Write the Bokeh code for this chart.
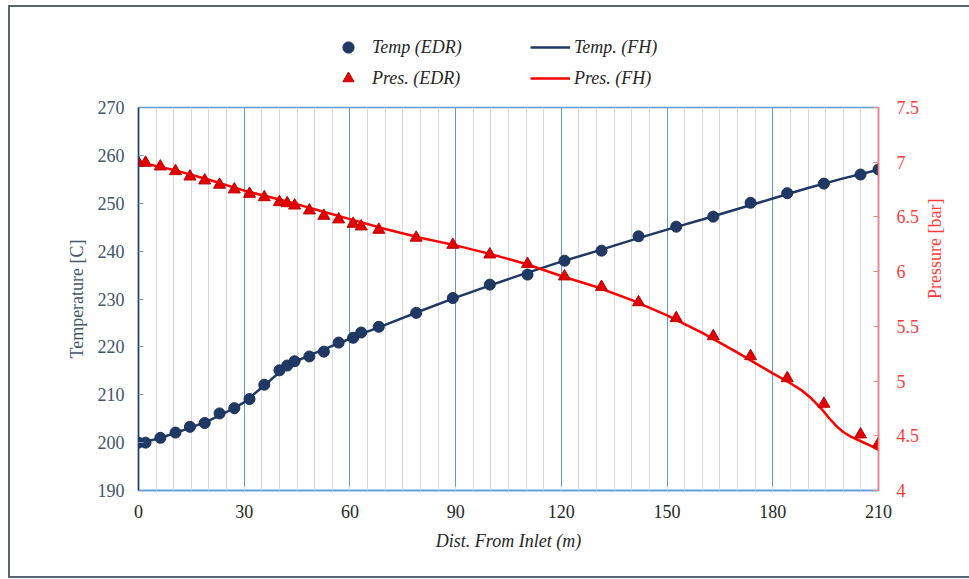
import math
from bokeh.plotting import figure
from bokeh.layouts import column
from bokeh.models import (Range1d, LinearAxis, FixedTicker, Legend, LegendItem)
from bokeh.embed import file_html
from bokeh.resources import INLINE

# ---- data ----
dist_edr = [0, 2, 6.2, 10.5, 14.6, 18.8, 23, 27.2, 31.5, 35.7, 40, 42.2, 44.3,
            48.5, 52.6, 56.8, 60.9, 63.2, 68.2, 78.8, 89.2, 99.7, 110.4, 120.9,
            131.4, 141.9, 152.6, 163.1, 173.7, 184.1, 194.5, 204.9, 210]
temp_edr = [200, 200, 201, 202.1, 203.3, 204.1, 206.1, 207.2, 209.1, 212.1,
            215.1, 216.1, 217, 218, 219, 220.9, 221.9, 223, 224.2, 227.1, 230.2,
            233, 235.1, 238, 240.1, 243.1, 245.1, 247.2, 250.1, 252.1, 254.1,
            256, 257.05]
pres_edr = [6.995, 6.995, 6.961, 6.918, 6.869, 6.833, 6.794, 6.751, 6.711, 6.68,
            6.635, 6.625, 6.604, 6.559, 6.51, 6.477, 6.437, 6.413, 6.382, 6.31,
            6.245, 6.157, 6.07, 5.956, 5.86, 5.72, 5.575, 5.41, 5.227, 5.026,
            4.792, 4.512, 4.427]

dist_fh_t = [0, 5, 10, 15, 20, 25, 30, 35, 40, 45, 50, 55, 60, 65, 70, 80, 90,
             100, 110, 120, 130, 140, 150, 160, 170, 180, 190, 200, 210]
temp_fh = [200, 200.7, 201.9, 203.2, 204.6, 206.4, 208.4, 211.5, 214.7, 217.1,
           218.7, 220.2, 221.7, 223.2, 224.6, 227.5, 230.3, 232.9, 235.4, 237.8,
           240.0, 242.3, 244.5, 246.6, 248.8, 251.0, 253.2, 255.2, 257]

dist_fh_p = [0, 10, 20, 30, 40, 50, 60, 70, 80, 90, 100, 110, 120, 130, 140, 150,
             160, 170, 180, 185, 188, 191, 194, 196, 198, 200, 202, 205, 208, 210]
pres_fh = [7.0, 6.93, 6.84, 6.74, 6.66, 6.57, 6.48, 6.39, 6.31, 6.24, 6.16, 6.07,
           5.96, 5.86, 5.74, 5.60, 5.44, 5.26, 5.07, 4.98, 4.92, 4.84, 4.74, 4.66,
           4.59, 4.535, 4.495, 4.45, 4.405, 4.37]

x_ticks = [0, 30, 60, 90, 120, 150, 180, 210]
x_minor = list(range(0, 211, 5))
t_ticks = [190, 200, 210, 220, 230, 240, 250, 260, 270]
p_ticks = [4, 4.5, 5, 5.5, 6, 6.5, 7, 7.5]
p_labels = ["4", "4.5", "5", "5.5", "6", "6.5", "7", "7.5"]

legend_col1 = ["Temp (EDR)", "Pres. (EDR)"]
legend_col2 = ["Temp. (FH)", "Pres. (FH)"]

NAVY = "#1F3864"
RED = "#FF0000"
TRI = "#E00000"
SERIF = "Liberation Serif"
W = 959
H_LEG = 88
H_MAIN = 481

circ_style = dict(marker="circle", size=11, fill_color=NAVY, line_color="#1A2F55", line_width=1)
tri_style = dict(marker="triangle", size=12, fill_color=TRI, line_color="#C00000", line_width=1)
tl_style = dict(line_color=NAVY, line_width=2.5)
pl_style = dict(line_color=RED, line_width=2.5)

# ---------------- main chart ----------------
p = figure(width=W, height=H_MAIN, x_range=Range1d(0, 210), y_range=Range1d(190, 270),
           output_backend="svg", toolbar_location=None,
           min_border_left=128, min_border_right=91, min_border_top=12,
           min_border_bottom=86)
p.extra_y_ranges = {"pres": Range1d(4, 7.5)}
p.outline_line_color = "#5B9BD5"
p.outline_line_width = 1.5
p.border_fill_color = "white"

p.ygrid.grid_line_color = None
p.xgrid.ticker = FixedTicker(ticks=x_ticks, minor_ticks=x_minor)
p.xgrid.grid_line_color = "#5B9BD5"
p.xgrid.minor_grid_line_color = "#D9D9D9"

xa = p.xaxis[0]
xa.ticker = FixedTicker(ticks=x_ticks, minor_ticks=x_minor)
xa.axis_line_color = "#5B9BD5"
xa.axis_line_width = 1.5
xa.major_tick_in = 4
xa.major_tick_out = 0
xa.minor_tick_in = 4
xa.minor_tick_out = 0
xa.major_tick_line_color = "#5B9BD5"
xa.minor_tick_line_color = "#D9D9D9"
xa.major_label_text_font = SERIF
xa.major_label_text_font_size = "18px"
xa.major_label_text_color = "#262626"
xa.major_label_standoff = 14
xa.axis_label = "Dist. From Inlet (m)"
xa.axis_label_text_font = SERIF
xa.axis_label_text_font_style = "italic"
xa.axis_label_text_font_size = "18px"
xa.axis_label_text_color = "#262626"
xa.axis_label_standoff = 10

ya = p.yaxis[0]
ya.ticker = FixedTicker(ticks=t_ticks)
ya.axis_line_color = NAVY
ya.axis_line_width = 1.5
ya.major_tick_in = 5
ya.major_tick_out = 0
ya.minor_tick_in = 0
ya.minor_tick_out = 0
ya.major_tick_line_color = "#8497B0"
ya.major_label_text_font = SERIF
ya.major_label_text_font_size = "18px"
ya.major_label_text_color = "#44546A"
ya.major_label_standoff = 14
ya.axis_label = "Temperature [C]"
ya.axis_label_text_font = SERIF
ya.axis_label_text_font_style = "normal"
ya.axis_label_text_font_size = "18px"
ya.axis_label_text_color = "#44546A"
ya.axis_label_standoff = 8

ra = LinearAxis(y_range_name="pres", ticker=FixedTicker(ticks=p_ticks))
ra.major_label_overrides = {t: l for t, l in zip(p_ticks, p_labels)}
ra.axis_line_color = "#FF7C80"
ra.axis_line_width = 1.5
ra.major_tick_in = 5
ra.major_tick_out = 0
ra.minor_tick_in = 0
ra.minor_tick_out = 0
ra.major_tick_line_color = "#FF7C80"
ra.major_label_text_font = SERIF
ra.major_label_text_font_size = "18px"
ra.major_label_text_color = "#FF3B3B"
ra.major_label_standoff = 18
ra.axis_label = "Pressure [bar]"
ra.axis_label_orientation = math.pi / 2
ra.axis_label_text_font = SERIF
ra.axis_label_text_font_style = "normal"
ra.axis_label_text_font_size = "18px"
ra.axis_label_text_color = "#FF3B3B"
ra.axis_label_standoff = 13
p.add_layout(ra, "right")

p.line(dist_fh_t, temp_fh, **tl_style)
p.line(dist_fh_p, pres_fh, y_range_name="pres", **pl_style)
p.scatter(dist_edr, temp_edr, **circ_style)
p.scatter(dist_edr, pres_edr, y_range_name="pres", **tri_style)

# ---------------- legend strip ----------------
# same series drawn on a strip whose y-range lies far outside the data,
# so only the legend (which needs renderers in its own plot) is visible
lg = figure(width=W, height=H_LEG, x_range=Range1d(0, 210), y_range=Range1d(0, 1),
            x_axis_type=None, y_axis_type=None, output_backend="svg",
            toolbar_location=None, min_border=0)
lg.outline_line_color = None
lg.grid.grid_line_color = None
d_tc = lg.scatter(dist_edr, temp_edr, **circ_style)
d_pt = lg.scatter(dist_edr, pres_edr, **tri_style)
d_tl = lg.line(dist_fh_t, temp_fh, **tl_style)
d_pl = lg.line(dist_fh_p, pres_fh, **pl_style)

leg_kw = dict(padding=0, margin=0, border_line_color=None, background_fill_alpha=0,
              label_text_font=SERIF, label_text_font_style="italic",
              label_text_font_size="18px", label_text_color="#262626",
              label_height=28, glyph_height=28, spacing=3, glyph_width=40,
              label_standoff=4)
leg1 = Legend(items=[LegendItem(label=legend_col1[0], renderers=[d_tc]),
                     LegendItem(label=legend_col1[1], renderers=[d_pt])],
              location=(190, 3), **leg_kw)
leg2 = Legend(items=[LegendItem(label=legend_col2[0], renderers=[d_tl]),
                     LegendItem(label=legend_col2[1], renderers=[d_pl])],
              location=(392, 3), **leg_kw)
lg.add_layout(leg1, "center")
lg.add_layout(leg2, "center")

layout = column(lg, p, spacing=0,
                styles={"margin-left": "8px", "margin-top": "5px",
                        "border-left": "2px solid #5B6475",
                        "border-top": "2px solid #5B6475",
                        "border-bottom": "2px solid #5B6475"})

open("out.html", "w").write(file_html(layout, INLINE))
